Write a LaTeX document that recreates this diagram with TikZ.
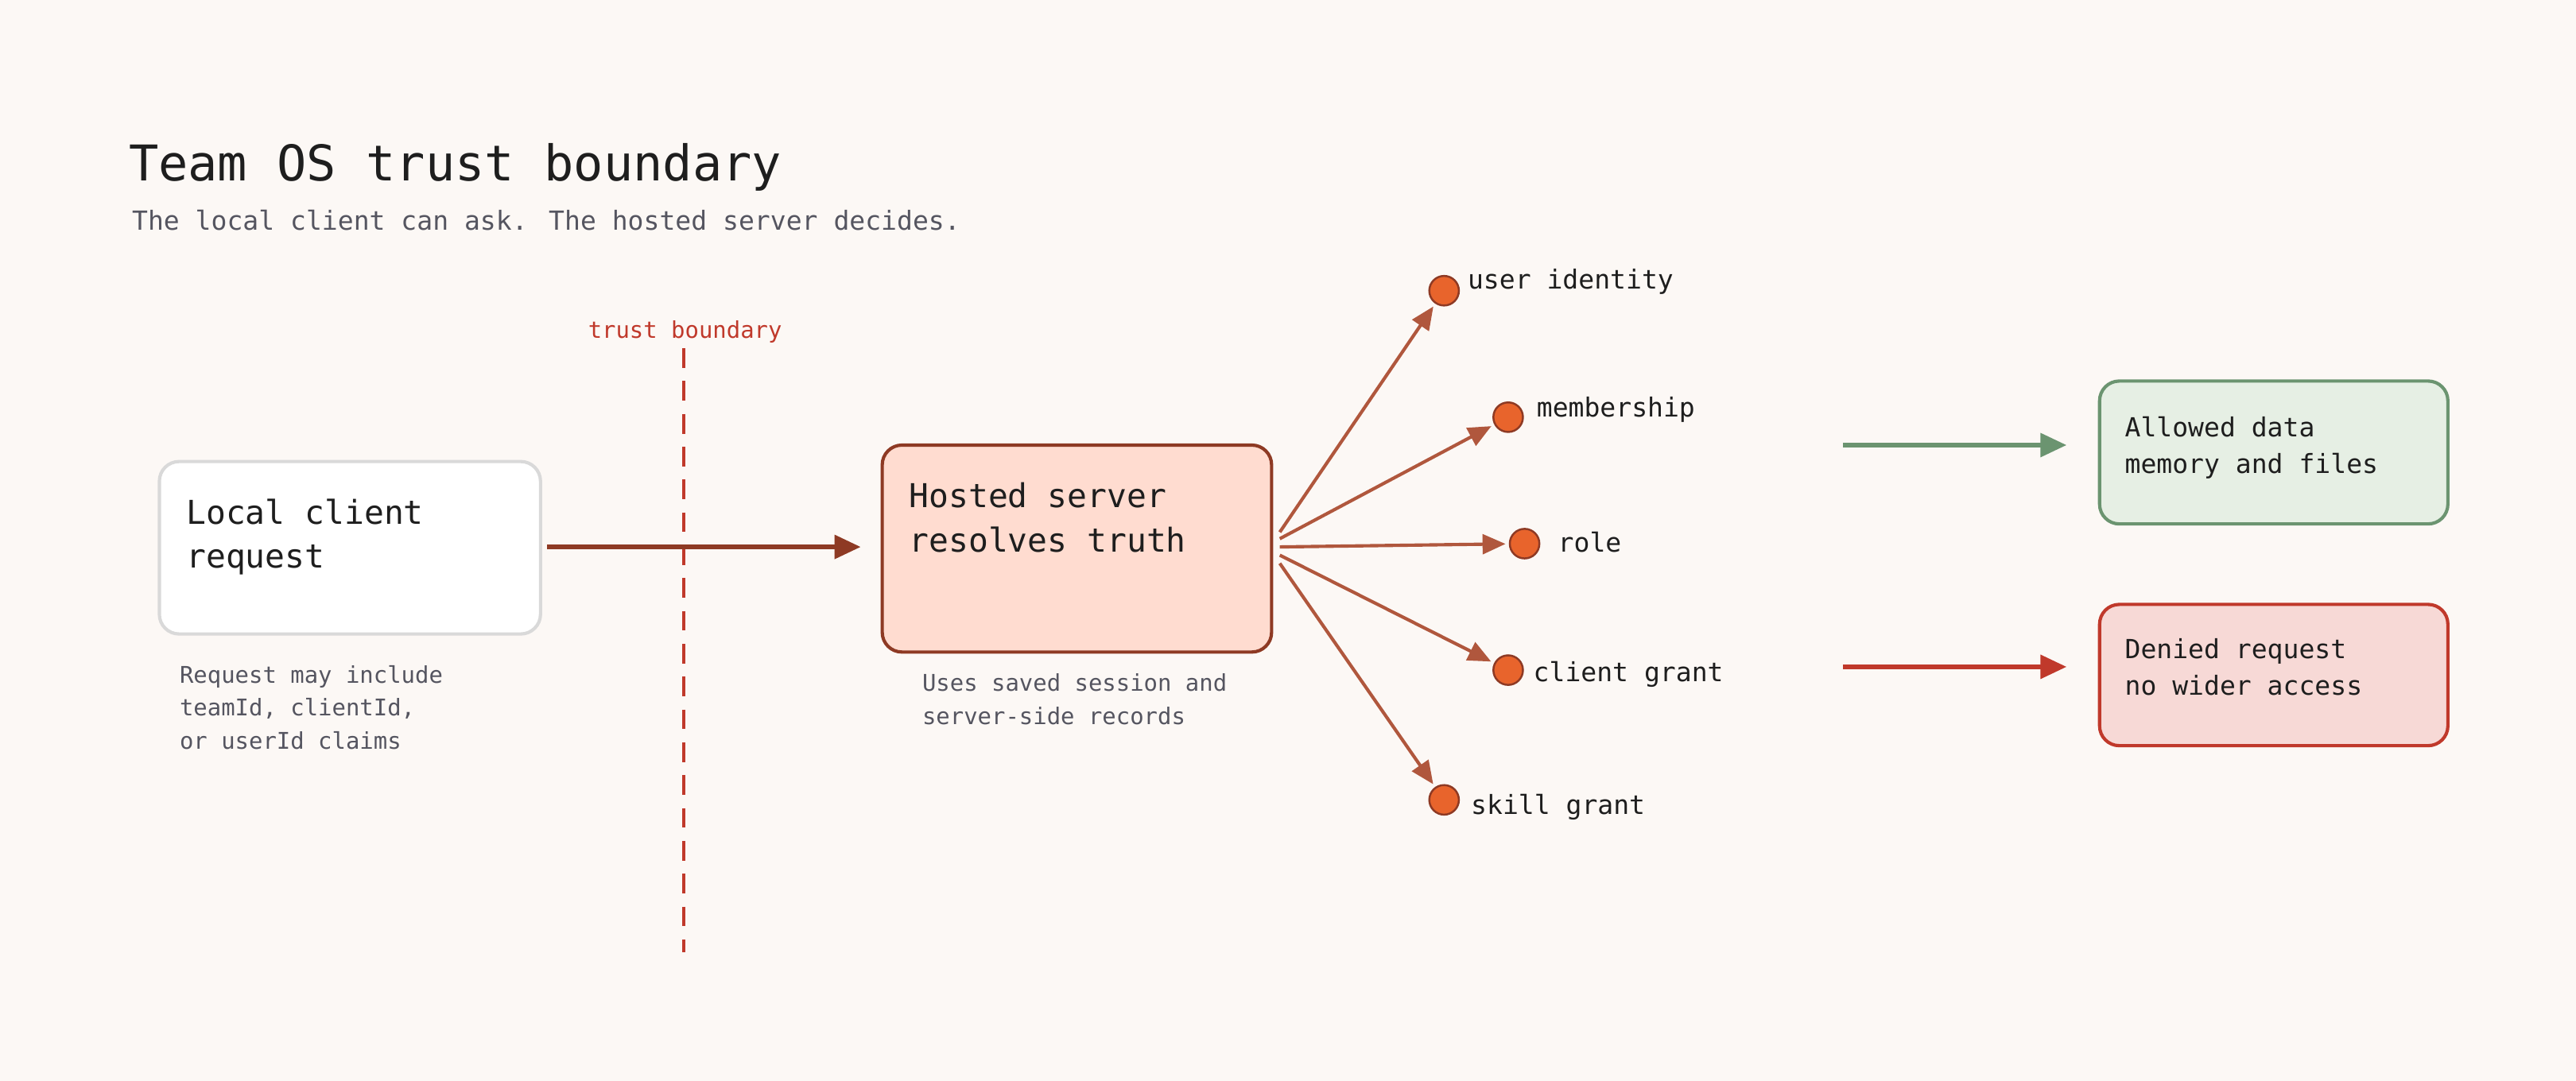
\documentclass[tikz,border=0pt]{standalone}
\usepackage{fontspec}
\setmainfont{DejaVu Sans Mono}
\usetikzlibrary{arrows.meta}
\definecolor{bg}{HTML}{FCF8F5}
\definecolor{ink}{HTML}{1E1E1E}
\definecolor{grayink}{HTML}{555560}
\definecolor{rust}{HTML}{8E3A24}
\definecolor{fan}{HTML}{B0573D}
\definecolor{dotfill}{HTML}{E8642C}
\definecolor{boundary}{HTML}{C0392B}
\definecolor{okline}{HTML}{6B9470}
\definecolor{okfill}{HTML}{E6EFE4}
\definecolor{nofill}{HTML}{F7D9D6}
\definecolor{srvfill}{HTML}{FFDCD0}
\tikzset{
  txt/.style={anchor=base west, inner sep=0pt, align=left},
  box/.style={draw, rounded corners=6pt, line width=1pt},
  dot/.style={circle, draw=rust, fill=dotfill, minimum size=9pt, inner sep=0pt, line width=0.6pt},
  fanarrow/.style={draw=fan, line width=1pt, -{Triangle[length=7pt,width=6pt]}, shorten >=1pt},
}
\begin{document}
\begin{tikzpicture}[x=0.5pt,y=-0.5pt]

    \fill[bg] (0,0) rectangle (1568,658);

    \node[txt, font=\fontsize{15}{18}\selectfont, text=ink] (title) at (78,110) {Team OS trust boundary};
    \node[txt, font=\fontsize{8}{10}\selectfont, text=grayink] (sub) at (80,140) {The local client can ask. The hosted server decides.};

    % trust boundary
    \node[font=\fontsize{7}{9}\selectfont, text=boundary] (tb) at (417,202) {trust boundary};
    \coordinate (tbtop) at (416,212);
    \coordinate (tbbot) at (416,580);
    \draw[boundary, line width=1pt, dash pattern=on 6pt off 4pt] (tbtop) -- (tbbot);

    % client
    \draw[box, draw=black!15, fill=white] (97,281) rectangle (329,386);
    \node[txt, font=\fontsize{10}{13.5}\selectfont, text=ink] (client) at (113,346) {Local client\\request};
    \node[txt, font=\fontsize{7}{10}\selectfont, text=grayink] (cnote) at (109,456) {Request may include\\teamId, clientId,\\or userId claims};
    \coordinate (cout) at (333,333);

    % server
    \draw[box, draw=rust, fill=srvfill] (537,271) rectangle (774,397);
    \node[txt, font=\fontsize{10}{13.5}\selectfont, text=ink] (server) at (553,336) {Hosted server\\resolves truth};
    \node[txt, font=\fontsize{7}{10}\selectfont, text=grayink] (snote) at (561,441) {Uses saved session and\\server-side records};
    \coordinate (sin) at (524,333);
    \draw[rust, line width=1.6pt, -{Triangle[length=8pt,width=7pt]}] (cout) -- (sin);

    % claims
    \node[dot] (d1) at (879,177) {};
    \node[dot] (d2) at (918,254) {};
    \node[dot] (d3) at (928,331) {};
    \node[dot] (d4) at (918,408) {};
    \node[dot] (d5) at (879,487) {};
    \node[txt, font=\fontsize{8}{10}\selectfont, text=ink] (l1) at (893,176) {user identity};
    \node[txt, font=\fontsize{8}{10}\selectfont, text=ink] (l2) at (935,254) {membership};
    \node[txt, font=\fontsize{8}{10}\selectfont, text=ink] (l3) at (948,336) {role};
    \node[txt, font=\fontsize{8}{10}\selectfont, text=ink] (l4) at (933,415) {client grant};
    \node[txt, font=\fontsize{8}{10}\selectfont, text=ink] (l5) at (895,496) {skill grant};
    \coordinate (s1) at (779,324);
    \coordinate (s2) at (779,328);
    \coordinate (s3) at (779,333);
    \coordinate (s4) at (779,338);
    \coordinate (s5) at (779,343);
    \draw[fanarrow] (s1) -- (d1);
    \draw[fanarrow] (s2) -- (d2);
    \draw[fanarrow] (s3) -- (d3);
    \draw[fanarrow] (s4) -- (d4);
    \draw[fanarrow] (s5) -- (d5);

    % outcomes
    \draw[box, draw=okline, fill=okfill] (1278,232) rectangle (1490,319);
    \node[txt, font=\fontsize{8}{11}\selectfont, text=ink] (ok) at (1293,288) {Allowed data\\memory and files};
    \draw[box, draw=boundary, fill=nofill] (1278,368) rectangle (1490,454);
    \node[txt, font=\fontsize{8}{11}\selectfont, text=ink] (no) at (1293,423) {Denied request\\no wider access};
    \coordinate (oka) at (1122,271);
    \coordinate (okb) at (1258,271);
    \coordinate (noa) at (1122,406);
    \coordinate (nob) at (1258,406);
    \draw[okline, line width=1.6pt, -{Triangle[length=8pt,width=7pt]}] (oka) -- (okb);
    \draw[boundary, line width=1.6pt, -{Triangle[length=8pt,width=7pt]}] (noa) -- (nob);
\end{tikzpicture}
\end{document}
